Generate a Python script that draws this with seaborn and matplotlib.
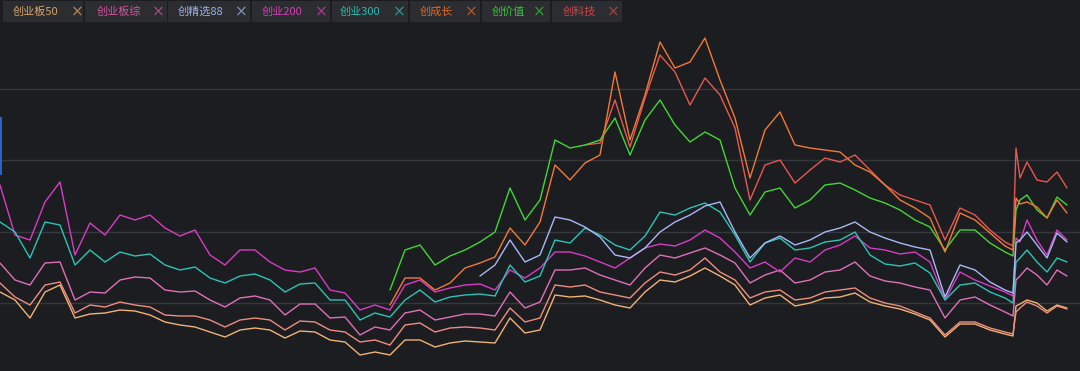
import numpy as np
import pandas as pd
import seaborn as sns
import matplotlib.pyplot as plt
from matplotlib.patches import Rectangle

# x positions (trading days, spaced on the chart axis)
xs = list(range(0, 1006, 15)) + [1013, 1016, 1020, 1027, 1037, 1047, 1057, 1067]
nan = np.nan

# index levels
cy200 = [215,165,160,198,218,145,177,165,185,180,
         185,172,164,170,145,135,150,150,138,130,
         128,132,110,107,90,95,90,115,120,108,
         112,115,116,110,130,122,132,148,148,144,
         138,132,142,152,156,154,160,170,162,148,
         132,138,128,142,138,150,155,164,152,150,
         146,148,138,100,128,120,114,108,
         104,162,158,180,160,145,170,160]

cy300 = [178,168,142,178,175,135,150,138,148,144,
         146,135,130,133,122,117,124,126,120,108,
         116,117,100,100,80,87,83,100,110,98,
         103,105,106,104,135,118,124,160,157,172,
         165,155,150,164,188,185,192,197,188,165,
         138,157,162,150,152,158,160,168,145,136,
         134,137,127,100,115,117,108,102,
         97,138,142,150,138,128,142,138]

cybz = [137,120,115,137,138,100,108,107,120,123,
        122,110,108,109,100,93,102,104,100,85,
        96,96,82,83,65,73,70,87,90,80,
        83,86,86,84,108,92,98,130,130,132,
        125,120,115,132,145,142,147,152,145,137,
        117,125,130,117,120,128,130,138,124,119,
        117,113,110,82,100,103,95,88,
        84,120,124,132,125,115,130,124]

extra = [117,103,95,115,118,87,95,93,98,95,
         93,85,84,84,80,73,80,82,80,70,
         79,78,70,68,58,60,55,75,77,68,
         72,73,72,70,92,78,82,115,113,115,
         108,105,102,117,128,125,130,142,128,120,
         102,108,110,100,102,108,110,112,102,97,
         94,88,82,65,78,78,72,68,
         66,88,92,98,94,87,94,91]

cyb50 = [108,100,82,108,115,82,86,87,90,89,
         85,78,75,73,68,63,70,72,70,62,
         69,68,60,58,45,48,45,60,60,53,
         57,59,58,57,82,67,70,105,103,104,
         100,95,92,108,120,118,124,132,124,115,
         95,102,105,94,97,102,103,107,98,94,
         91,86,80,63,76,76,70,66,
         64,94,96,100,97,89,95,92]

cjx88 = [nan]*32 + [124,135,160,138,145,183,180,173,
                    163,145,142,152,168,178,185,194,198,168,
                    142,157,164,155,160,168,172,178,168,162,
                    157,153,150,103,135,130,118,110,
                    107,157,160,168,155,142,167,158]

cjz = [nan]*26 + [110,150,155,135,144,150,158,168,212,180,200,260,252,255,
                  260,282,245,280,300,275,258,268,260,212,
                  185,208,212,192,200,215,217,210,202,197,
                  190,180,173,150,170,170,157,148,
                  144,190,200,205,190,182,203,195]

ccz = [nan]*26 + [95,122,122,110,117,132,137,143,172,155,178,235,220,237,
                  245,328,260,305,358,332,338,362,320,282,
                  222,270,288,255,252,250,248,235,228,215,
                  200,192,182,148,187,180,167,154,
                  150,202,196,198,193,182,200,187]

ckj = [nan]*39 + [255,
                  257,300,253,302,345,328,295,322,305,272,
                  200,235,240,217,230,242,238,245,230,215,
                  205,200,195,160,192,185,170,158,
                  154,252,222,238,220,218,228,212]

names = ["创业板50", "创业板综", "创精选88", "创业200", "创业300", "创成长", "创价值", "创科技"]
tab_colors = ["#d8a468", "#d0549c", "#9cb0e0", "#d040b0", "#30b8b0", "#d86a30", "#3cc03c", "#c84848"]

series = {
    "创业板50": cyb50, "其他": extra, "创业板综": cybz, "创业200": cy200, "创业300": cy300,
    "创精选88": cjx88, "创科技": ckj, "创价值": cjz, "创成长": ccz,
}
line_colors = {
    "创业板50": "#f2b274", "其他": "#f08c80", "创业板综": "#e070b8", "创业200": "#d83cc4",
    "创业300": "#2cc4b4", "创精选88": "#a8b8f8", "创科技": "#e85850", "创价值": "#44d634",
    "创成长": "#f27a36",
}

rows = []
for name, vals in series.items():
    for x, v in zip(xs, vals):
        rows.append((name, x, v))
df = pd.DataFrame(rows, columns=["name", "x", "v"]).dropna()

bg = "#1b1d21"
sns.set_style("dark")
plt.rcParams["font.family"] = ["Noto Sans CJK SC", "DejaVu Sans"]

W, H = 1080, 371
fig = plt.figure(figsize=(W / 100, H / 100), dpi=100, facecolor=bg)
ax = fig.add_axes([0, 0, 1, 1])
ax.set_facecolor(bg)

sns.lineplot(data=df, x="x", y="v", hue="name", hue_order=list(series.keys()),
             palette=line_colors, linewidth=1, estimator=None, sort=False,
             legend=False, ax=ax)

ax.set_xlim(0, W)
ax.set_ylim(29, 400)
ax.set_yticks([97, 168.5, 240, 311.5])
ax.set_xticks([])
ax.grid(axis="y", color="#35373c", linewidth=1)
ax.grid(axis="x", visible=False)
ax.set_axisbelow(True)
ax.tick_params(length=0, labelleft=False)
ax.set_xlabel("")
ax.set_ylabel("")
for s in ax.spines.values():
    s.set_visible(False)

# small blue marker on the left edge
fig.patches.append(Rectangle((0, 1 - 175 / H), 2 / W, 58 / H, transform=fig.transFigure,
                             facecolor="#2d62c0", edgecolor="none", zorder=5))

# tab strip legend
tabs = [(3, 83, 13, 77), (85, 167, 97, 158), (168, 250, 178, 241), (252, 330, 262, 321),
        (332, 408, 340, 399), (410, 480, 420, 471), (482, 550, 492, 539), (552, 622, 563, 613)]
for (x0, x1, tx, cx), name, col in zip(tabs, names, tab_colors):
    fig.patches.append(Rectangle((x0 / W, 1 - 22 / H), (x1 - x0) / W, 21 / H,
                                 transform=fig.transFigure, facecolor="#2b2d31",
                                 edgecolor="none", zorder=5))
    fig.text(tx / W, 1 - 12 / H, name, color=col, fontsize=8, ha="left", va="center", zorder=6)
    fig.text(cx / W, 1 - 12 / H, "×", color=col, alpha=0.75, fontsize=11, ha="center",
             va="center", family="DejaVu Sans", zorder=6)

fig.savefig("out.png", dpi=100, facecolor=bg)
